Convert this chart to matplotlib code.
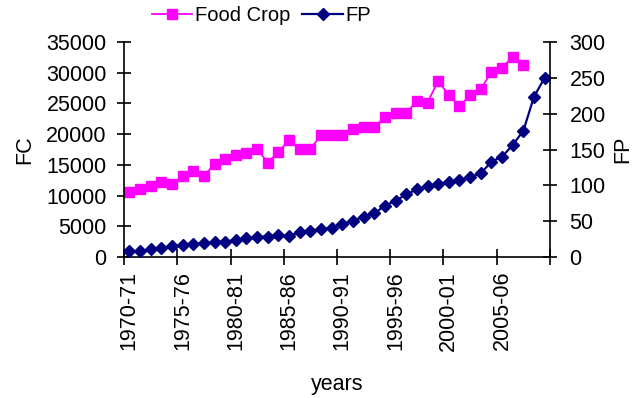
import matplotlib
matplotlib.use("Agg")
import matplotlib.pyplot as plt
from matplotlib.ticker import FixedLocator, NullFormatter

plt.rcParams["font.family"] = ["Liberation Sans", "DejaVu Sans"]

# Crop years 1970-71 .. 2009-10
years = [f"{y}-{(y + 1) % 100:02d}" for y in range(1970, 2010)]

# Food crop production (left axis) - reported up to 2007-08
food_crop = [10530, 11120, 11560, 12160, 11830, 13240, 14050, 13240, 15090, 16000,
             16660, 16980, 17630, 15350, 17140, 19000, 17580, 17630, 19810, 19810,
             19810, 20890, 21210, 21210, 22740, 23390, 23390, 25450, 25120, 28700,
             26320, 24580, 26320, 27300, 30170, 30820, 32610, 31210]

# FP (right axis)
fp = [8.4, 8.4, 10.7, 13.0, 15.3, 16.7, 18.1, 19.0, 20.9, 21.4,
      23.7, 26.0, 28.4, 28.4, 30.7, 29.8, 34.4, 36.7, 39.0, 40.9,
      46.0, 50.7, 56.3, 60.9, 71.6, 78.6, 87.4, 94.4, 99.5, 101.9,
      105.1, 107.4, 112.0, 116.7, 133.0, 140.0, 156.3, 176.2, 223.6, 250.1]

FS = 15.5

fig = plt.figure(figsize=(6.38, 3.98), dpi=100)
ax = fig.add_axes([0.1944, 0.354, 0.862 - 0.1944, 0.8945 - 0.354])
ax2 = ax.twinx()

x_fc = list(range(len(food_crop)))
x_fp = list(range(len(fp)))

l1, = ax.plot(x_fc, food_crop, color="#FF00FF", marker="s", markersize=7.6,
              linewidth=1.3, label="Food Crop")
l2, = ax2.plot(x_fp, fp, color="#000080", marker="D", markersize=6.3,
               linewidth=1.6, label="FP")

ax.set_xlim(-0.5, len(years) - 0.5)
ax.set_ylim(0, 35000)
ax2.set_ylim(0, 300)
ax.set_yticks(range(0, 35001, 5000))
ax2.set_yticks(range(0, 301, 50))

# category boundaries every 5 years carry the tick marks, labels sit on the category
ax.xaxis.set_major_locator(FixedLocator([i - 0.5 for i in range(0, len(years) + 1, 5)]))
ax.xaxis.set_major_formatter(NullFormatter())
ax.xaxis.set_minor_locator(FixedLocator(list(range(0, len(years), 5))))
ax.set_xticklabels([years[i] for i in range(0, len(years), 5)], minor=True,
                   rotation=90, fontsize=FS)
ax.tick_params(axis="x", which="major", direction="inout", length=12, width=1.2)
ax.tick_params(axis="x", which="minor", length=0, pad=10)

ax.tick_params(axis="y", direction="inout", length=10, width=1.2, labelsize=FS, pad=7.5)
ax2.tick_params(axis="y", direction="inout", length=10, width=1.2, labelsize=FS, pad=9)

for a in (ax, ax2):
    a.spines["top"].set_visible(False)
    for s in ("left", "right", "bottom"):
        a.spines[s].set_linewidth(1.2)
ax.spines["right"].set_visible(False)
ax2.spines["left"].set_visible(False)
ax2.spines["bottom"].set_visible(False)

ax.set_ylabel("FC", fontsize=FS, labelpad=8)
ax2.set_ylabel("FP", fontsize=FS, labelpad=5)
ax.set_xlabel("years", fontsize=FS, labelpad=17)

fig.legend(handles=[l1, l2], loc="upper center", bbox_to_anchor=(0.41, 1.03),
           ncol=2, frameon=False, fontsize=14.5, handlelength=2.0,
           handletextpad=0.15, columnspacing=0.6)

fig.savefig("out.png", dpi=100)
